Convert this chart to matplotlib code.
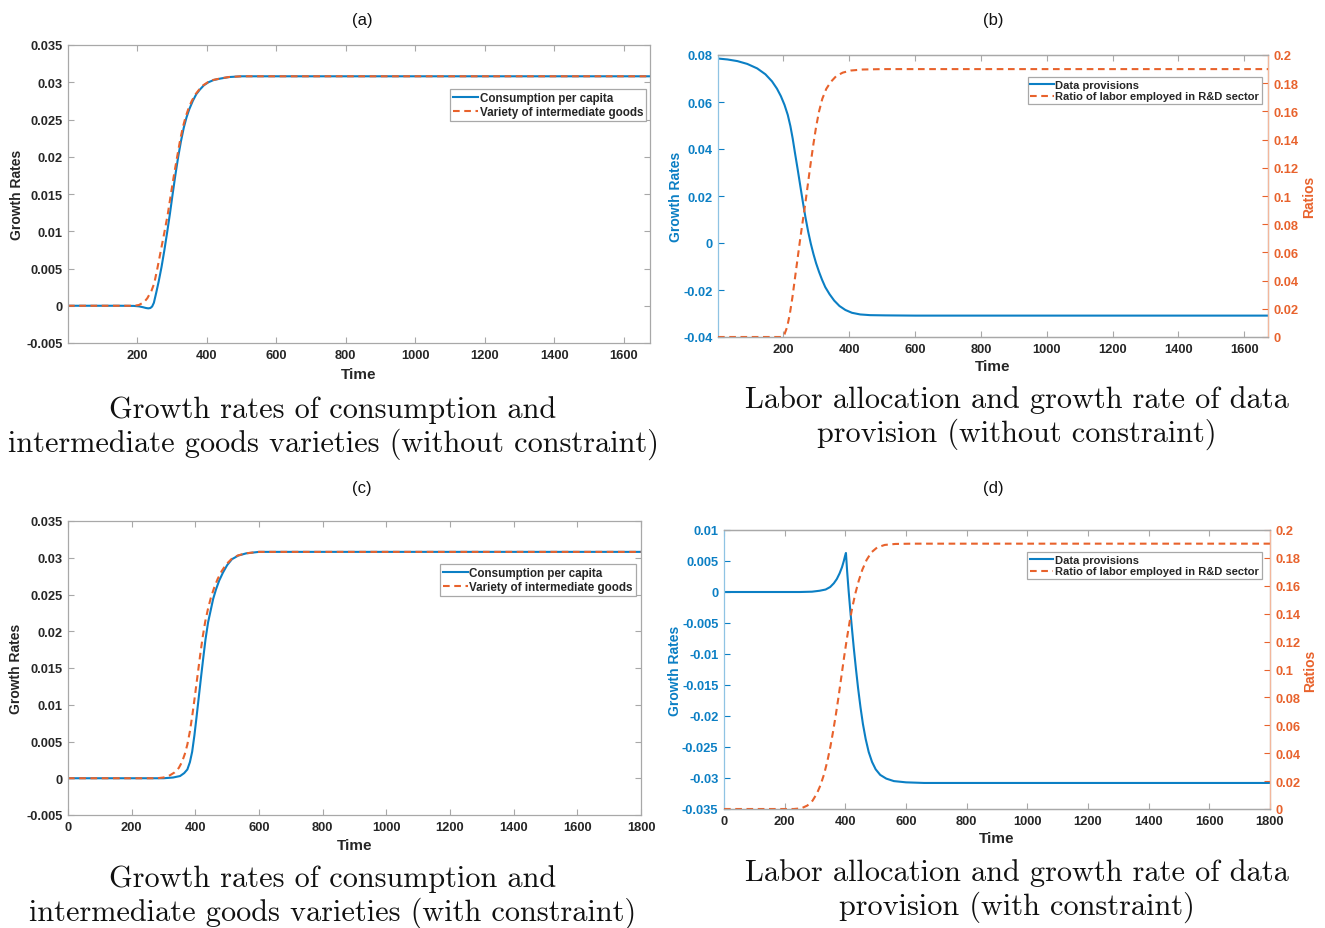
import matplotlib
matplotlib.use('Agg')
import matplotlib.pyplot as plt

# ---------------- data ----------------
# (a) without constraint
a_t_cons = [1, 150, 190, 205, 217, 225, 232, 238, 243, 248, 255, 262, 270, 278, 286, 294, 302, 310, 318, 326,
            334, 342, 350, 360, 370, 380, 392, 405, 420, 440, 465, 500, 550, 1675]
a_cons = [0, 0, -0.00002, -0.00008, -0.0002, -0.0003, -0.00035, -0.0003, -0.0001, 0.0004, 0.0018, 0.0033,
          0.0052, 0.0074, 0.0098, 0.0123, 0.0150, 0.0176, 0.0200, 0.0221, 0.0239, 0.0253, 0.0264, 0.0275,
          0.0284, 0.0290, 0.0296, 0.0300, 0.0303, 0.0305, 0.0307, 0.0308, 0.0308, 0.0308]
a_t_var = [1, 180, 195, 205, 220, 229, 241, 249, 258, 268, 278, 288, 297, 306, 315, 323, 331, 339, 347, 357,
           368, 378, 390, 403, 418, 438, 463, 500, 1675]
a_var = [0, 0, 0.00003, 0.0001, 0.0005, 0.0010, 0.0020, 0.0030, 0.0050, 0.0074, 0.0098, 0.0123, 0.0150,
         0.0176, 0.0200, 0.0221, 0.0239, 0.0253, 0.0264, 0.0275, 0.0284, 0.0290, 0.0296, 0.0300, 0.0303,
         0.0305, 0.0307, 0.0308, 0.0308]

# (b) without constraint
b_t_dp = [1, 30, 60, 90, 120, 145, 165, 180, 192, 203, 213, 221, 228, 235, 243, 251, 259, 267, 275, 283, 291,
          299, 308, 317, 327, 340, 354, 370, 388, 408, 433, 463, 510, 600, 1672]
b_dp = [0.0785, 0.0781, 0.0774, 0.0762, 0.0743, 0.0718, 0.0688, 0.0657, 0.0625, 0.0588, 0.0545, 0.0497,
        0.0444, 0.0382, 0.0314, 0.0243, 0.0173, 0.0107, 0.0048, -0.0003, -0.0047, -0.0086, -0.0123, -0.0156,
        -0.0188, -0.0218, -0.0245, -0.0268, -0.0285, -0.0297, -0.0304, -0.0307, -0.0308, -0.0309, -0.0309]
b_t_lab = [1, 195, 203, 211, 219, 227, 235, 243, 251, 259, 267, 275, 283, 291, 299, 308, 318, 330, 344, 360,
           380, 405, 440, 500, 1672]
b_lab = [0, 0, 0.002, 0.007, 0.016, 0.028, 0.042, 0.056, 0.070, 0.083, 0.096, 0.110, 0.124, 0.137, 0.149,
         0.160, 0.169, 0.176, 0.181, 0.185, 0.1875, 0.189, 0.1897, 0.190, 0.190]

# (c) with constraint
c_t_cons = [0, 300, 330, 352, 365, 375, 383, 390, 397, 404, 411, 418, 425, 432, 440, 448, 456, 465, 475, 487,
            500, 515, 535, 560, 600, 1800]
c_cons = [0, 0, 0.0001, 0.0003, 0.0007, 0.0012, 0.0022, 0.0036, 0.0058, 0.0084, 0.0111, 0.0138, 0.0164,
          0.0189, 0.0212, 0.0228, 0.0244, 0.0257, 0.0269, 0.0280, 0.0290, 0.0298, 0.0303, 0.0306, 0.0308,
          0.0308]
c_t_var = [0, 280, 300, 320, 335, 348, 358, 367, 375, 383, 391, 399, 407, 415, 423, 431, 440, 449, 459, 470,
           483, 497, 513, 533, 558, 600, 1800]
c_var = [0, 0, 0.0001, 0.0004, 0.0008, 0.0014, 0.0022, 0.0033, 0.0046, 0.0064, 0.0087, 0.0113, 0.0140,
         0.0167, 0.0192, 0.0213, 0.0231, 0.0246, 0.0259, 0.0271, 0.0282, 0.0291, 0.0298, 0.0303, 0.0306,
         0.0308, 0.0308]

# (d) with constraint
d_t_dp = [0, 250, 290, 315, 335, 350, 362, 372, 381, 389, 395, 399, 402, 406, 411, 416, 422, 428, 435, 442,
          450, 458, 467, 477, 488, 500, 515, 535, 560, 600, 660, 1800]
d_dp = [0, 0, 0.00005, 0.0002, 0.0004, 0.0008, 0.0014, 0.0021, 0.0030, 0.0040, 0.0050, 0.0058, 0.0063,
        0.0033, 0.0001, -0.0028, -0.0060, -0.0091, -0.0124, -0.0155, -0.0186, -0.0213, -0.0237, -0.0258,
        -0.0274, -0.0286, -0.0295, -0.0301, -0.0305, -0.0307, -0.0308, -0.0308]
d_t_lab = [0, 230, 255, 275, 292, 306, 318, 330, 341, 351, 360, 369, 378, 387, 396, 405, 414, 423, 433, 444,
           456, 470, 486, 505, 530, 565, 620, 1800]
d_lab = [0, 0, 0.0005, 0.0025, 0.0060, 0.0110, 0.0170, 0.0250, 0.0345, 0.0450, 0.0560, 0.0680, 0.0810,
         0.0950, 0.1090, 0.1220, 0.1340, 0.1445, 0.1545, 0.1635, 0.1715, 0.1785, 0.1840, 0.1875, 0.1893,
         0.1900, 0.1902, 0.1902]

# ticks
x_ticks_ab = [200, 400, 600, 800, 1000, 1200, 1400, 1600]
x_ticks_cd = [0, 200, 400, 600, 800, 1000, 1200, 1400, 1600, 1800]
y_ticks_ac = [-0.005, 0, 0.005, 0.01, 0.015, 0.02, 0.025, 0.03, 0.035]
y_ticks_b = [-0.04, -0.02, 0, 0.02, 0.04, 0.06, 0.08]
y_ticks_d = [-0.035, -0.03, -0.025, -0.02, -0.015, -0.01, -0.005, 0, 0.005, 0.01]
y_ticks_r = [0, 0.02, 0.04, 0.06, 0.08, 0.1, 0.12, 0.14, 0.16, 0.18, 0.2]

leg_ac = ['Consumption per capita', 'Variety of intermediate goods']
leg_bd = ['Data provisions', 'Ratio of labor employed in R&D sector']

panel_labels = ['(a)', '(b)', '(c)', '(d)']
captions = [
    'Growth rates of consumption and\nintermediate goods varieties (without constraint)',
    'Labor allocation and growth rate of data\nprovision (without constraint)',
    'Growth rates of consumption and\nintermediate goods varieties (with constraint)',
    'Labor allocation and growth rate of data\nprovision (with constraint)',
]

# ---------------- style ----------------
BLUE = '#0b7fc4'
ORANGE = '#e8622c'
TXT = '#262626'
SPINE = '#a8a8a8'
SANS = 'Liberation Sans'
TFS = 9.3
DASH = (0, (3.2, 2.2))
W, H = 1325, 929

fig = plt.figure(figsize=(W / 100, H / 100), dpi=100)


def box(l, r, t, b):
    return [l / W, 1 - b / H, (r - l) / W, (b - t) / H]


def fmt(v):
    return f'{v:g}'


def style(ax, xlim, xticks, ylim, yticks, ycolor=TXT, right=True):
    ax.set_xlim(*xlim)
    ax.set_ylim(*ylim)
    ax.set_xticks(xticks)
    ax.set_xticklabels([fmt(v) for v in xticks], fontfamily=SANS, fontweight='bold', fontsize=TFS, color=TXT)
    ax.set_yticks(yticks)
    ax.set_yticklabels([fmt(v) for v in yticks], fontfamily=SANS, fontweight='bold', fontsize=TFS, color=ycolor)
    ax.tick_params(direction='in', length=4, width=0.8, top=True, right=right, color=SPINE, pad=4)
    for s in ax.spines.values():
        s.set_color(SPINE)
        s.set_linewidth(0.9)


def labels(ax, ylab, yx, xy, ycolor=TXT):
    ax.set_xlabel('Time', fontfamily=SANS, fontweight='bold', fontsize=11, color=TXT)
    ax.xaxis.set_label_coords(0.5, xy)
    ax.set_ylabel(ylab, fontfamily=SANS, fontweight='bold', fontsize=10, color=ycolor)
    ax.yaxis.set_label_coords(yx, 0.5)


def legend(ax, handles, names, anchor, size):
    lg = ax.legend(handles, names, loc='upper right', bbox_to_anchor=anchor, fancybox=False,
                   edgecolor=SPINE, framealpha=1, borderpad=0.25, labelspacing=0.15,
                   handlelength=2.1, handletextpad=0.15, borderaxespad=0,
                   prop={'family': SANS, 'weight': 'bold', 'size': size})
    lg.get_frame().set_linewidth(0.9)
    for t in lg.get_texts():
        t.set_color(TXT)


# (a)
ax_a = fig.add_axes(box(68, 650, 46, 344))
la1, = ax_a.plot(a_t_cons, a_cons, color=BLUE, lw=1.5)
la2, = ax_a.plot(a_t_var, a_var, color=ORANGE, lw=1.5, linestyle=DASH)
style(ax_a, (1, 1675), x_ticks_ab, (-0.005, 0.035), y_ticks_ac)
labels(ax_a, 'Growth Rates', -0.075, -0.08)
legend(ax_a, [la1, la2], leg_ac, (0.993, 0.852), 8.4)

# (c)
ax_c = fig.add_axes(box(68, 641, 522, 816))
lc1, = ax_c.plot(c_t_cons, c_cons, color=BLUE, lw=1.5)
lc2, = ax_c.plot(c_t_var, c_var, color=ORANGE, lw=1.5, linestyle=DASH)
style(ax_c, (0, 1800), x_ticks_cd, (-0.005, 0.035), y_ticks_ac)
labels(ax_c, 'Growth Rates', -0.0785, -0.078)
legend(ax_c, [lc1, lc2], leg_ac, (0.991, 0.854), 8.4)


def twin_panel(rect, t1, v1, t2, v2, xlim, xticks, ylim, yticks, yx_l, yx_r, xy, anchor):
    ax = fig.add_axes(rect)
    l1, = ax.plot(t1, v1, color=BLUE, lw=1.5)
    style(ax, xlim, xticks, ylim, yticks, ycolor=BLUE, right=False)
    ax.tick_params(axis='y', colors=BLUE)
    ax.tick_params(axis='x', colors=SPINE, labelcolor=TXT)
    ax.spines['left'].set_color('#8fc3e3')
    labels(ax, 'Growth Rates', yx_l, xy, ycolor=BLUE)
    ax2 = ax.twinx()
    l2, = ax2.plot(t2, v2, color=ORANGE, lw=1.5, linestyle=DASH)
    ax2.set_ylim(0, 0.2)
    ax2.set_yticks(y_ticks_r)
    ax2.set_yticklabels([fmt(v) for v in y_ticks_r], fontfamily=SANS, fontweight='bold', fontsize=TFS,
                        color=ORANGE)
    ax2.tick_params(axis='y', direction='in', length=4, width=0.8, colors=ORANGE, pad=4)
    for s in ax2.spines.values():
        s.set_color(SPINE)
        s.set_linewidth(0.9)
    ax2.spines['right'].set_color('#f3b79c')
    ax2.spines['left'].set_visible(False)
    ax2.set_ylabel('Ratios', fontfamily=SANS, fontweight='bold', fontsize=10, color=ORANGE)
    ax2.yaxis.set_label_coords(yx_r, 0.5)
    legend(ax2, [l1, l2], leg_bd, anchor, 8.0)
    return ax, ax2


twin_panel(box(718, 1268, 56, 338), b_t_dp, b_dp, b_t_lab, b_lab, (1, 1672), x_ticks_ab,
           (-0.04, 0.08), y_ticks_b, -0.064, 1.062, -0.078, (0.989, 0.922))
twin_panel(box(724, 1270, 531, 810), d_t_dp, d_dp, d_t_lab, d_lab, (0, 1800), x_ticks_cd,
           (-0.035, 0.01), y_ticks_d, -0.077, 1.060, -0.079, (0.985, 0.921))

# panel letters
for lab, (x, y) in zip(panel_labels, [(362, 20), (993, 20), (362, 489), (993, 489)]):
    fig.text(x / W, 1 - y / H, lab, ha='center', va='center', fontfamily=SANS, fontsize=12, color='#111111')

# captions
for cap, (x, y) in zip(captions, [(333, 428), (1017, 418), (333, 897), (1017, 891)]):
    fig.text(x / W, 1 - y / H, cap, ha='center', va='center', fontfamily='cmr10', fontsize=21.8,
             color='#111111', linespacing=1.22)

fig.savefig('out.png', dpi=100, facecolor='white')
